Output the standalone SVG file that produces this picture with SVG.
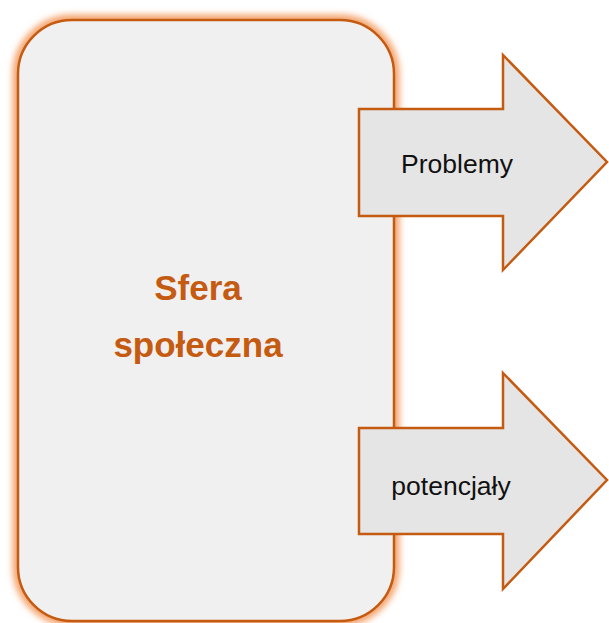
<svg xmlns="http://www.w3.org/2000/svg" width="609" height="623" viewBox="0 0 609 623">
  <style>
    .arrow { fill: #E5E5E5; stroke: #C55A11; stroke-width: 2.5; stroke-linejoin: miter; }
    .lbl { font-family: "Liberation Sans", Arial, sans-serif; font-size: 26.5px; fill: #111111; text-anchor: middle; }
    .title { font-family: "Liberation Sans", Arial, sans-serif; font-size: 35px; font-weight: bold; fill: #C55A11; text-anchor: middle; }
  </style>
  <defs>
    <filter id="glow" x="-10%" y="-10%" width="120%" height="120%">
      <feGaussianBlur stdDeviation="3"/>
    </filter>
  </defs>
  <rect width="609" height="623" fill="#FFFFFF"/>
  <g id="sfera">
    <rect x="18" y="20" width="376" height="601" rx="54" ry="54" fill="none" stroke="#F4A46E" stroke-width="11" filter="url(#glow)"/>
    <rect x="18" y="20" width="376" height="601" rx="54" ry="54" fill="#F0F0F0" stroke="#C55A11" stroke-width="2.5"/>
    <text class="title" x="198" y="300">Sfera</text>
    <text class="title" x="198" y="357">społeczna</text>
  </g>
  <g id="connectors">
    <g id="problemy">
      <polygon class="arrow" points="359,109 503,109 503,55 607,162 503,270 503,216 359,216"/>
      <text class="lbl" x="457" y="173">Problemy</text>
    </g>
    <g id="potencjaly">
      <polygon class="arrow" points="359,428 503,428 503,373 607,480 503,589 503,534 359,534"/>
      <text class="lbl" x="451" y="495">potencjały</text>
    </g>
  </g>
</svg>
